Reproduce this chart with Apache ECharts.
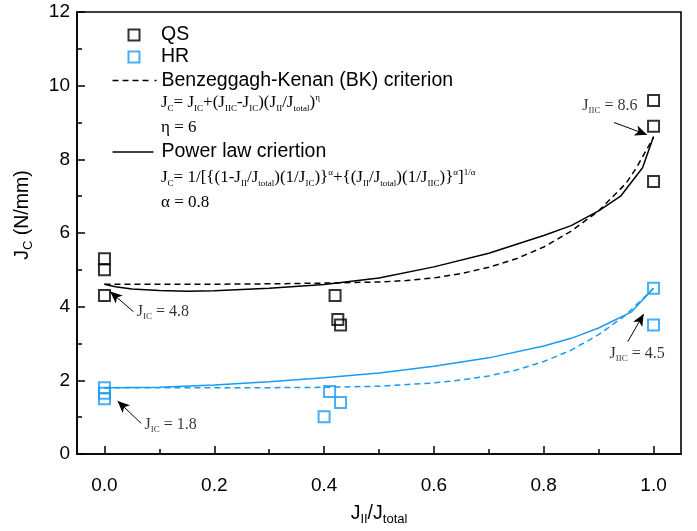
<!DOCTYPE html>
<html>
<head>
<meta charset="utf-8">
<script src="https://cdn.jsdelivr.net/npm/echarts@6/dist/echarts.min.js"></script>
<style>
  html, body { margin: 0; padding: 0; background: #ffffff; }
  #chart { width: 697px; height: 531px; }
</style>
</head>
<body>
<div id="chart"></div>
<script>
// ---- axis ticks ----
const xMajorTicks = [0, 0.2, 0.4, 0.6, 0.8, 1.0];
const xMinorTicks = [0.1, 0.3, 0.5, 0.7, 0.9];

// ---- measured toughness, [J_II/J_total, J_C] ----
const qsPoints = [[0, 5.3], [0, 5.0], [0, 4.3], [0.42, 4.3], [0.425, 3.65], [0.43, 3.5], [1, 9.6], [1, 8.9], [1, 7.4]];
const hrPoints = [[0, 1.8], [0, 1.65], [0, 1.5], [0.41, 1.7], [0.43, 1.4], [0.40, 1.01], [1, 4.5], [1, 3.5]];

// ---- criterion curves ----
const qsBkX = [0, 0.1, 0.2, 0.3, 0.4, 0.5, 0.55, 0.6, 0.65, 0.7, 0.75, 0.8, 0.85, 0.9, 0.95, 0.97, 1.0];
const qsBkY = [4.61, 4.61, 4.61, 4.62, 4.64, 4.67, 4.71, 4.78, 4.9, 5.07, 5.3, 5.62, 6.05, 6.6, 7.35, 7.8, 8.6];
const qsPowX = [0, 0.02, 0.05, 0.1, 0.15, 0.2, 0.3, 0.4, 0.5, 0.6, 0.7, 0.8, 0.85, 0.9, 0.94, 0.98, 1.0];
const qsPowY = [4.61, 4.54, 4.48, 4.44, 4.42, 4.43, 4.5, 4.6, 4.78, 5.08, 5.45, 5.93, 6.2, 6.6, 7.0, 7.77, 8.62];
const hrBkX = [0, 0.1, 0.2, 0.3, 0.4, 0.5, 0.6, 0.65, 0.7, 0.75, 0.8, 0.85, 0.9, 0.95, 1.0];
const hrBkY = [1.8, 1.8, 1.8, 1.8, 1.81, 1.84, 1.93, 2.01, 2.12, 2.28, 2.51, 2.82, 3.24, 3.78, 4.5];
const hrPowX = [0, 0.1, 0.2, 0.3, 0.4, 0.5, 0.6, 0.7, 0.8, 0.85, 0.9, 0.96, 1.0];
const hrPowY = [1.8, 1.81, 1.87, 1.96, 2.07, 2.2, 2.38, 2.61, 2.93, 3.14, 3.42, 3.86, 4.5];

// ---- callouts: anchor in data units, arrow tail -> head ----
const noteTexts = ['{m|J}{s|IIC}{m| = 8.6}', '{m|J}{s|IC}{m| = 4.8}', '{m|J}{s|IC}{m| = 1.8}', '{m|J}{s|IIC}{m| = 4.5}'];
const noteAnchors = [[0.87, 9.45], [0.059, 3.86], [0.073, 0.8], [0.92, 2.72]];
const arrowSegments = [
  [[0.928, 9.0], [0.988, 8.67]],
  [[0.053, 3.86], [0.0104, 4.41]],
  [[0.067, 0.83], [0.024, 1.44]],
  [[0.953, 3.05], [0.982, 3.80]]
];

const SANS = "'Liberation Sans', Arial, sans-serif";
const SERIF = "'Liberation Serif', 'Times New Roman', serif";
const BLACK = '#000000';
const BLUE = '#1a9bf2';

const zip = (xs, ys) => xs.map((x, i) => [x, ys[i]]);

const serifRich = {
  m: { fontFamily: SERIF, fontSize: 17, color: BLACK },
  s: { fontFamily: SERIF, fontSize: 9, color: BLACK, padding: [11, 0, 0, 0] },
  p: { fontFamily: SERIF, fontSize: 9, color: BLACK, padding: [0, 0, 11, 0] }
};
const noteRich = {
  m: { fontFamily: SERIF, fontSize: 16, color: BLACK },
  s: { fontFamily: SERIF, fontSize: 9, color: BLACK, padding: [10, 0, 0, 0] }
};
const sansRich = {
  m: { fontFamily: SANS, fontSize: 19.5, color: BLACK },
  s: { fontFamily: SANS, fontSize: 13, color: BLACK, padding: [11, 0, 0, 0] }
};

const squareIcon = 'path://M0,0H10V10H0Z';
const dashIcon = 'path://M0,0H6V1.6H0Z M10,0H16V1.6H10Z M20,0H26V1.6H20Z M30,0H36V1.6H30Z M42,0H44V1.6H42Z';
const solidIcon = 'path://M0,0H41V1.6H0Z M43.9,0H44V1.6H43.9Z';

const legendText = { fontFamily: SANS, fontSize: 19.5, color: BLACK };
const axisLineStyle = { color: BLACK, width: 1.6 };
const legendBase = { orient: 'vertical', left: 112.5, padding: 0, itemWidth: 44, itemHeight: 11, selectedMode: false, textStyle: legendText };

function hollowSquares(name, data, color) {
  return {
    type: 'scatter', name: name, data: data,
    symbol: 'rect', symbolSize: 11, z: 3,
    itemStyle: { color: 'rgba(0,0,0,0)', borderColor: color, borderWidth: 2 }
  };
}
function curve(name, data, color, dashed) {
  return {
    type: 'line', name: name, data: data,
    symbol: 'none', showSymbol: false, z: 4,
    lineStyle: { color: color, width: 1.5, type: dashed ? [6, 4] : 'solid' }
  };
}
function formula(text, y) {
  return {
    type: 'text', x: 161, y: y, silent: true,
    style: { text: text, rich: serifRich, font: '17px ' + SERIF, fill: BLACK, verticalAlign: 'middle' }
  };
}

const option = {
  animation: false,
  backgroundColor: '#ffffff',
  grid: { left: 77, right: 16, top: 12, bottom: 75, show: true, borderColor: BLACK, borderWidth: 1.6 },
  legend: [
    // square icons keep their aspect, so this block sits further right to line up its text
    Object.assign({}, legendBase, {
      left: 127.5, top: 25, itemGap: 2,
      data: [
        { name: 'QS', icon: squareIcon, itemStyle: { color: 'rgba(0,0,0,0)', borderColor: BLACK, borderWidth: 2 } },
        { name: 'HR', icon: squareIcon, itemStyle: { color: 'rgba(0,0,0,0)', borderColor: BLUE, borderWidth: 2 } }
      ]
    }),
    Object.assign({}, legendBase, {
      top: 70.5,
      data: [{ name: 'Benzeggagh-Kenan (BK) criterion', icon: dashIcon, itemStyle: { color: BLACK, borderWidth: 0 } }]
    }),
    Object.assign({}, legendBase, {
      top: 142,
      data: [{ name: 'Power law criertion', icon: solidIcon, itemStyle: { color: BLACK, borderWidth: 0 } }]
    })
  ],
  graphic: [
    formula('{m|J}{s|C}{m|= J}{s|IC}{m|+(J}{s|IIC}{m|-J}{s|IC}{m|)(J}{s|II}{m|/J}{s|total}{m|)}{p|η}', 103),
    formula('{m|η = 6}', 128),
    formula('{m|J}{s|C}{m|= 1/[}{{m|(1-J}{s|II}{m|/J}{s|total}{m|)(1/J}{s|IC}{m|)}}{p|α}{m|+}{{m|(J}{s|II}{m|/J}{s|total}{m|)(1/J}{s|IIC}{m|)}}{p|α}{m|]}{p|1/α}', 178),
    formula('{m|α = 0.8}', 203)
  ],
  xAxis: [
    {
      type: 'value', min: -0.05, max: 1.05, position: 'bottom',
      name: '{m|J}{s|II}{m|/J}{s|total}', nameLocation: 'middle', nameGap: 48,
      nameTextStyle: { fontFamily: SANS, fontSize: 19.5, color: BLACK, rich: sansRich },
      axisLine: { show: true, onZero: false, lineStyle: axisLineStyle },
      axisTick: { show: true, inside: true, length: 8, customValues: xMajorTicks, lineStyle: { color: BLACK, width: 1.5 } },
      axisLabel: { customValues: xMajorTicks, margin: 22, fontFamily: SANS, fontSize: 19, color: BLACK,
                   formatter: v => v.toFixed(1) },
      splitLine: { show: false }
    },
    {
      type: 'value', min: -0.05, max: 1.05, position: 'bottom',
      axisLine: { show: false, onZero: false },
      axisTick: { show: true, inside: true, length: 5, customValues: xMinorTicks, lineStyle: { color: BLACK, width: 1.5 } },
      axisLabel: { show: false },
      splitLine: { show: false }
    }
  ],
  yAxis: {
    type: 'value', min: 0, max: 12, interval: 2, position: 'left',
    name: '{m|J}{s|C}{m| (N/mm)}', nameLocation: 'middle', nameGap: 42, nameRotate: 90,
    nameTextStyle: { fontFamily: SANS, fontSize: 19.5, color: BLACK, rich: sansRich, padding: [0, 0, 0, 36] },
    axisLine: { show: true, onZero: false, lineStyle: axisLineStyle },
    axisTick: { show: true, inside: true, length: 8, lineStyle: { color: BLACK, width: 1.5 } },
    minorTick: { show: true, splitNumber: 2, length: 5, lineStyle: { color: BLACK, width: 1.5 } },
    axisLabel: { margin: 7, fontFamily: SANS, fontSize: 19, color: BLACK },
    splitLine: { show: false }
  },
  series: [
    hollowSquares('QS', qsPoints, BLACK),
    hollowSquares('HR', hrPoints, BLUE),
    curve('Benzeggagh-Kenan (BK) criterion', zip(qsBkX, qsBkY), BLACK, true),
    curve('Power law criertion', zip(qsPowX, qsPowY), BLACK, false),
    curve('BK criterion, HR', zip(hrBkX, hrBkY), BLUE, true),
    curve('Power law, HR', zip(hrPowX, hrPowY), BLUE, false),
    {
      type: 'scatter', name: 'callouts', symbolSize: 0, silent: true, z: 6,
      data: noteTexts.map((t, i) => ({ value: noteAnchors[i], label: { formatter: t } })),
      label: { show: true, position: 'inside', align: 'left', verticalAlign: 'middle',
               fontFamily: SERIF, fontSize: 16, color: BLACK, rich: noteRich },
      markLine: {
        silent: true, animation: false,
        symbol: ['none', 'arrow'], symbolSize: [0, 11],
        lineStyle: { color: BLACK, width: 1, type: 'solid' },
        label: { show: false },
        emphasis: { disabled: true },
        data: arrowSegments.map(([a, b]) => [
          { coord: a, symbol: 'none' },
          { coord: b, symbol: 'arrow', symbolSize: [8, 12] }
        ])
      }
    }
  ]
};

const chart = echarts.init(document.getElementById('chart'), null, { renderer: 'canvas' });
chart.setOption(option);
</script>
</body>
</html>
